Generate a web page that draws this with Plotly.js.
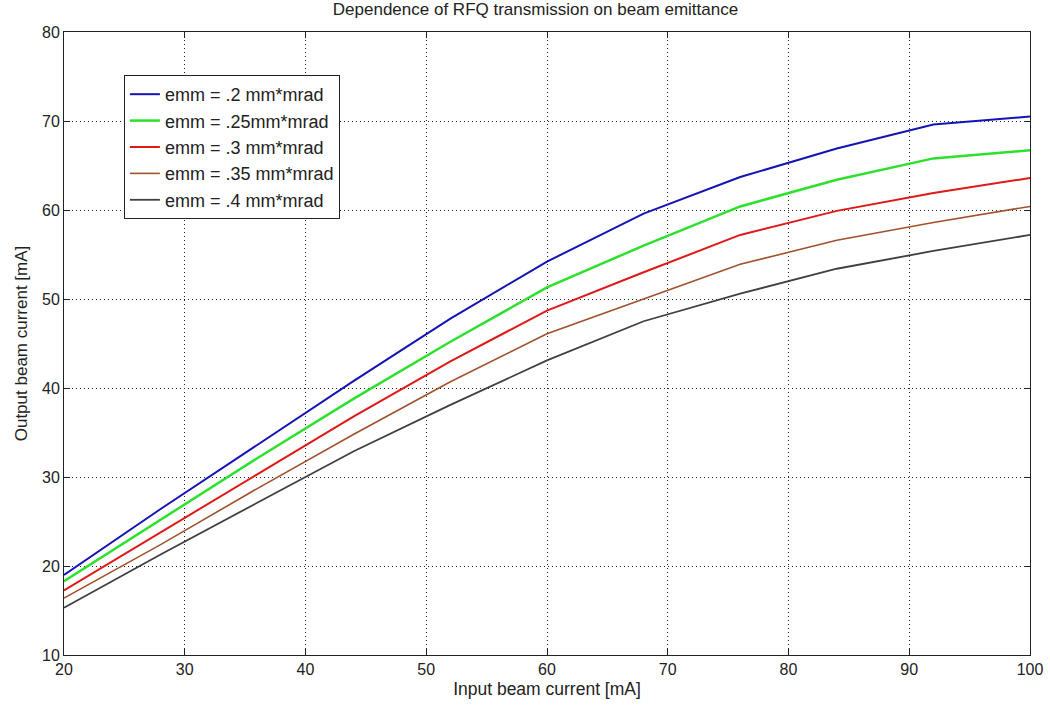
<!DOCTYPE html>
<html>
<head>
<meta charset="utf-8">
<script src="https://cdn.plot.ly/plotly-3.0.1.min.js"></script>
<style>html,body{margin:0;padding:0;background:#fff;}#chart{width:1050px;height:708px;}</style>
</head>
<body>
<div id="chart"></div>
<script>
const inputCurrent = [20, 28, 36, 44, 52, 60, 68, 76, 84, 92, 100];
const emm020 = [19.0, 26.4, 33.6, 40.8, 47.8, 54.2, 59.6, 63.7, 66.9, 69.6, 70.5];
const emm025 = [18.3, 25.2, 32.1, 38.8, 45.2, 51.3, 56.0, 60.4, 63.4, 65.8, 66.7];
const emm030 = [17.25, 23.8, 30.3, 36.8, 43.0, 48.7, 53.0, 57.2, 59.9, 61.9, 63.6];
const emm035 = [16.4, 22.4, 28.7, 34.8, 40.7, 46.1, 50.0, 53.9, 56.6, 58.6, 60.4];
const emm040 = [15.3, 21.3, 27.1, 32.9, 38.1, 43.1, 47.5, 50.6, 53.4, 55.4, 57.2];
const seriesNames = ["emm = .2 mm*mrad", "emm = .25mm*mrad", "emm = .3 mm*mrad", "emm = .35 mm*mrad", "emm = .4 mm*mrad"];
const seriesColors = ["#1414b4", "#2ee02e", "#e01818", "#a0522d", "#404040"];
const seriesWidths = [2, 2.5, 2, 1.6, 1.8];
const seriesData = [emm020, emm025, emm030, emm035, emm040];

const traces = seriesData.map((ys, i) => ({
  x: inputCurrent, y: ys, type: 'scatter', mode: 'lines', name: seriesNames[i],
  line: {color: seriesColors[i], width: seriesWidths[i]}
}));

const fontFam = '"Liberation Sans", Arial, sans-serif';
const layout = {
  width: 1050, height: 708,
  margin: {l: 64, r: 20, t: 32, b: 53},
  paper_bgcolor: '#fff', plot_bgcolor: '#fff',
  title: {text: 'Dependence of RFQ transmission on beam emittance', font: {family: fontFam, size: 17, color: '#222'}, x: 0.51, xanchor: 'center', y: 0.995, yanchor: 'top'},
  xaxis: {
    range: [20, 100], dtick: 10, tick0: 20,
    showline: true, mirror: 'ticks', linecolor: '#222', linewidth: 1,
    ticks: 'inside', ticklen: 6, tickcolor: '#222',
    showgrid: true, gridcolor: '#222', griddash: '1px,3px', gridwidth: 1,
    zeroline: false,
    tickfont: {family: fontFam, size: 16, color: '#222'},
    title: {text: 'Input beam current [mA]', font: {family: fontFam, size: 17.5, color: '#222'}, standoff: 5}
  },
  yaxis: {
    range: [10, 80], dtick: 10,
    showline: true, mirror: 'ticks', linecolor: '#222', linewidth: 1,
    ticks: 'inside', ticklen: 6, tickcolor: '#222',
    showgrid: true, gridcolor: '#222', griddash: '1px,3px', gridwidth: 1,
    zeroline: false,
    tickfont: {family: fontFam, size: 16, color: '#222'},
    title: {text: 'Output beam current [mA]', font: {family: fontFam, size: 17, color: '#222'}, standoff: 10}
  },
  showlegend: true,
  legend: {
    x: 0.062, y: 0.931, xanchor: 'left', yanchor: 'top',
    bgcolor: '#fff', bordercolor: '#222', borderwidth: 1,
    font: {family: fontFam, size: 18, color: '#222'},
    tracegroupgap: 0, itemwidth: 30
  }
};
Plotly.newPlot('chart', traces, layout, {displayModeBar: false, staticPlot: true});
</script>
</body>
</html>
